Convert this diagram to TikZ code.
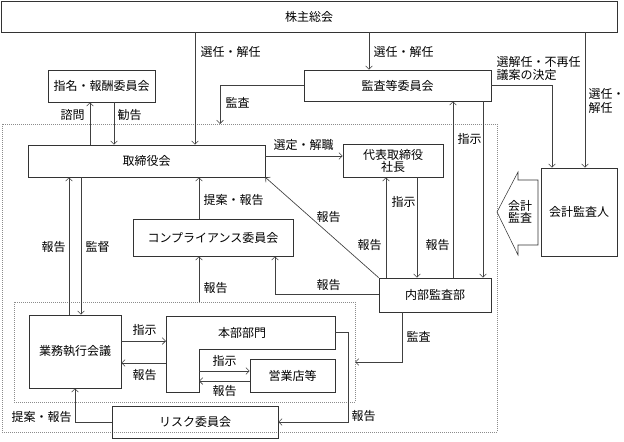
\documentclass[tikz,border=0pt]{standalone}
\usepackage{fontspec}
\setmainfont{Noto Sans CJK JP}
\usetikzlibrary{arrows.meta}

\begin{document}
\begin{tikzpicture}[x=0.75pt, y=-0.75pt,
    box/.style={draw=black!80, rectangle, inner sep=0pt},
    sz/.style 2 args={minimum width=#1*0.75pt, minimum height=#2*0.75pt},
    lbl/.style={inner sep=1pt, anchor=west},
    wire/.style={draw=black!75, line width=0.5pt},
    arr/.style={wire, -{Straight Barb[length=2.5pt, width=5pt]}},
    frame/.style={draw=black!45, densely dotted, line width=0.5pt},
    font=\fontsize{9}{11}\selectfont]

    % --- Frame ---
    \useasboundingbox (0,0) rectangle (624,442);
    \draw[frame] (2,124) rectangle (497,432);
    \draw[frame] (14,302) rectangle (355,402);

    % --- Boxes ---
    \node[box, sz={616}{31}] (kabunushi) at (309,16.5) {株主総会};
    \node[box, sz={107}{32}] (shimei) at (101.5,86) {指名・報酬委員会};
    \node[box, sz={187}{31}] (kansatou) at (397.5,85.5) {監査等委員会};
    \node[box, sz={237}{32}] (torishimari) at (146.5,161) {取締役会};
    \node[box, sz={100}{33}, align=center] (shacho) at (393,160.5) {代表取締役\\[-2pt]社長};
    \node[box, sz={76}{88}] (kaikei) at (579,212) {会計監査人};
    \node[box, sz={160}{37}] (compliance) at (213,237.5) {コンプライアンス委員会};
    \node[box, sz={112}{34}] (naibu) at (435,295) {内部監査部};
    \node[box, sz={92}{73}] (gyomu) at (75,351.5) {業務執行会議};
    \node[box, sz={85}{33}] (eigyo) at (292.5,375.5) {営業店等};
    \node[box, sz={166}{32}] (risk) at (195,422) {リスク委員会};

    % 本部部門 wraps round 営業店等
    \draw[black!80] (166,316) -- (335,316) -- (335,349) -- (199,349)
        -- (199,392) -- (166,392) -- cycle;
    \node (honbu) at (242,333) {本部部門};
    \coordinate (honbuL) at (166,352);
    \coordinate (honbuI) at (199,376);
    \coordinate (honbuR) at (335,332);

    % block arrow for 会計監査
    \draw[black!80] (497,212) -- (518,172) -- (518,180) -- (538,180)
        -- (538,245) -- (518,245) -- (518,255) -- cycle;
    \node[align=center, inner sep=0pt] (kaikeikansa) at (520,211.5) {会計\\[-2pt]監査};

    % --- From the shareholders ---
    \draw[arr] (kabunushi.south -| 195,0) -- (torishimari.north -| 195,0);
    \node[lbl] (l1) at (199,52) {選任・解任};
    \draw[arr] (kabunushi.south -| 369,0) -- (kansatou.north -| 369,0);
    \node[lbl] (l2) at (372,52) {選任・解任};
    \draw[arr] (kabunushi.south -| 585,0) -- (kaikei.north -| 585,0);
    \node[lbl, align=left] (l3) at (587,101) {選任・\\[-1pt]解任};

    % --- Audit committee ---
    \draw[arr] (kansatou.east) -| (kaikei.north -| 552,0);
    \node[lbl, align=left] (l4) at (495,68.5) {選解任・不再任\\[-1pt]議案の決定};
    \coordinate (frameTop) at (220,124);
    \draw[arr] (kansatou.west) -| (frameTop);
    \node[lbl] (l5) at (224,103) {監査};
    \draw[arr] (kansatou.south -| 483,0) -- (naibu.north -| 483,0);
    \node[lbl] (l6) at (456,139) {指示};
    \draw[arr] (naibu.north -| 453,0) -- (kansatou.south -| 453,0);
    \node[lbl] (l7) at (424,245) {報告};

    % --- Board ---
    \draw[arr] (torishimari.north -| 90,0) -- (shimei.south -| 90,0);
    \node[lbl] (l8) at (59,115) {諮問};
    \draw[arr] (shimei.south -| 114,0) -- (torishimari.north -| 114,0);
    \node[lbl] (l9) at (116,115) {勧告};
    \draw[arr] (torishimari.east |- 0,156) -- (shacho.west |- 0,156);
    \node[lbl] (l10) at (272,145) {選定・解職};

    % --- Representative director ---
    \draw[arr] (naibu.north -| 386,0) -- (shacho.south -| 386,0);
    \node[lbl] (l11) at (356,245) {報告};
    \draw[arr] (shacho.south -| 417,0) -- (naibu.north -| 417,0);
    \node[lbl] (l12) at (390,202) {指示};

    % --- Internal audit ---
    \draw[arr] (naibu.north west) -- (torishimari.south east);
    \node[lbl] (l13) at (315,217) {報告};
    \draw[arr] (naibu.west |- 0,294) -| (compliance.south -| 275,0);
    \node[lbl] (l14) at (315,285) {報告};
    \coordinate (innerR) at (355,362);
    \draw[arr] (naibu.south -| 402,0) |- (innerR);
    \node[lbl] (l15) at (405,337) {監査};

    % --- Compliance ---
    \draw[arr] (compliance.north -| 199,0) -- (torishimari.south -| 199,0);
    \node[lbl] (l16) at (202,200) {提案・報告};
    \coordinate (innerTop) at (199,302);
    \draw[arr] (innerTop) -- (compliance.south -| 199,0);
    \node[lbl] (l17) at (202,288) {報告};

    % --- Business execution ---
    \draw[arr] (gyomu.north -| 69,0) -- (torishimari.south -| 69,0);
    \node[lbl] (l18) at (40,247) {報告};
    \draw[arr] (torishimari.south -| 81,0) -- (gyomu.north -| 81,0);
    \node[lbl] (l19) at (84,247) {監督};
    \draw[arr] (gyomu.east |- 0,341) -- (honbuL |- 0,341);
    \node[lbl] (l20) at (131,330) {指示};
    \draw[arr] (honbuL |- 0,363) -- (gyomu.east |- 0,363);
    \node[lbl] (l21) at (131,375) {報告};
    \draw[arr] (honbuI |- 0,371) -- (eigyo.west |- 0,371);
    \node[lbl] (l22) at (211,361) {指示};
    \draw[arr] (eigyo.west |- 0,381) -- (honbuI |- 0,381);
    \node[lbl] (l23) at (211,391) {報告};

    % --- Risk committee ---
    \draw[arr] (risk.west) -| (gyomu.south);
    \node[lbl] (l24) at (10,417) {提案・報告};
    \draw[arr] (honbuR) -- (348,332) |- (risk.east);
    \node[lbl] (l25) at (350,416) {報告};

\end{tikzpicture}
\end{document}
